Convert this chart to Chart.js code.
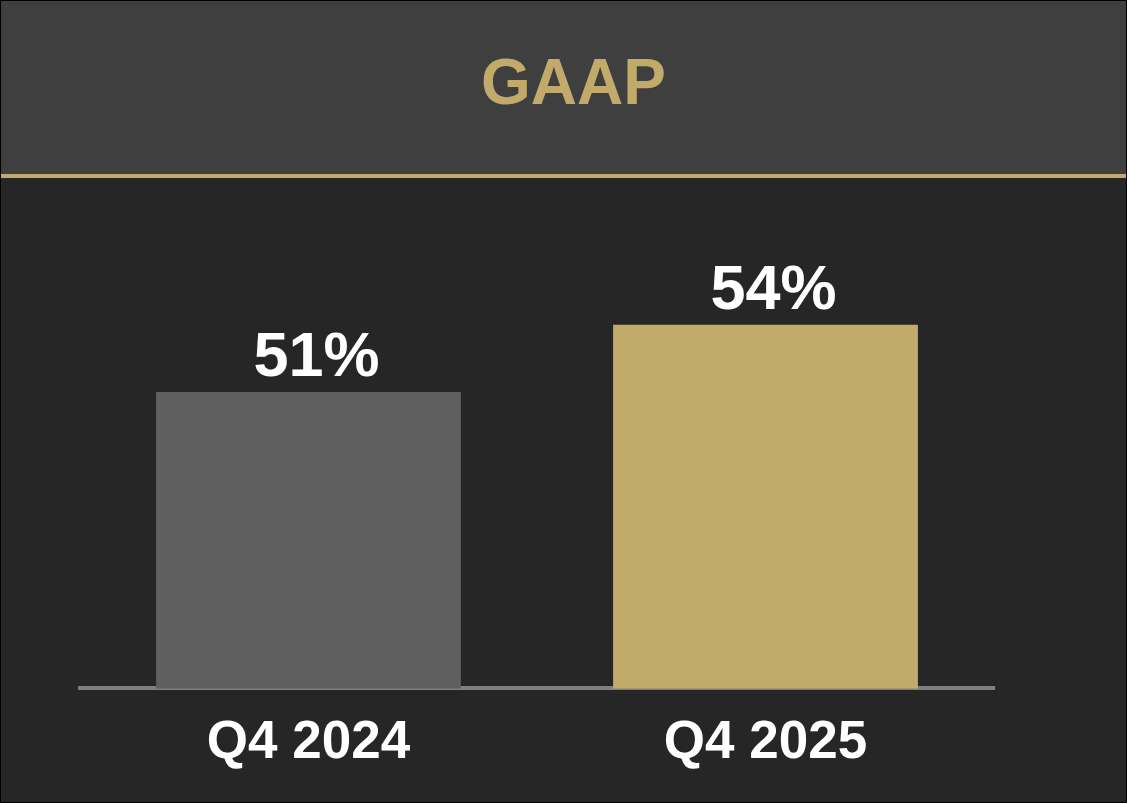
<!DOCTYPE html>
<html>
<head>
<meta charset="utf-8">
<script src="https://cdn.jsdelivr.net/npm/chart.js@4.4.1/dist/chart.umd.min.js"></script>
<style>
  html, body { margin: 0; padding: 0; background: #000; }
  #frame { position: relative; width: 1127px; height: 803px; box-sizing: border-box; border: 1px solid #000; background: #262626; overflow: hidden; }
  #header { position: absolute; left: 0; top: 0; width: 1125px; height: 173px; background: #3f3f3f; border-bottom: 4px solid #c2aa6a; }
  #title { position: absolute; left: 0; top: 0; width: 1125px; height: 173px; line-height: 163px; text-align: center; padding-left: 20px; box-sizing: border-box;
           font-family: "Liberation Sans", Arial, sans-serif; font-weight: bold; font-size: 64px; color: #c2aa6a; }
  #wrap { position: absolute; left: -1px; top: -1px; width: 1127px; height: 803px; }
</style>
</head>
<body>
<div id="frame">
  <div id="header"><div id="title">GAAP</div></div>
  <div id="wrap"><canvas id="c" width="1127" height="803"></canvas></div>
</div>
<script>
const categories = ["Q4 2024", "Q4 2025"];
const marginValues = [51, 54];
const barColors = ["#5f5f5f", "#c2aa6a"];

const valueLabels = {
  id: 'valueLabels',
  afterDatasetsDraw(chart) {
    const ctx = chart.ctx;
    const meta = chart.getDatasetMeta(0);
    ctx.save();
    ctx.fillStyle = '#ffffff';
    ctx.font = 'bold 63px "Liberation Sans", Arial, sans-serif';
    ctx.textAlign = 'center';
    ctx.textBaseline = 'alphabetic';
    meta.data.forEach((bar, i) => {
      const v = chart.data.datasets[0].data[i];
      ctx.fillText(v + '%', bar.x + 8, bar.y - 16);
    });
    ctx.restore();
  }
};

new Chart(document.getElementById('c'), {
  type: 'bar',
  data: {
    labels: categories,
    datasets: [{
      data: marginValues,
      backgroundColor: barColors,
      borderWidth: 0,
      barPercentage: 0.667,
      categoryPercentage: 1.0
    }]
  },
  options: {
    responsive: false,
    animation: false,
    layout: { padding: { left: 80, right: 133, top: 190, bottom: 5 } },
    plugins: { legend: { display: false }, tooltip: { enabled: false }, title: { display: false } },
    scales: {
      x: {
        z: 1,
        grid: { display: false, drawTicks: false },
        border: { display: true, color: '#7f7f7f', width: 4 },
        ticks: {
          color: '#ffffff',
          padding: 23,
          font: { family: '"Liberation Sans", Arial, sans-serif', size: 53, weight: 'bold' }
        }
      },
      y: {
        display: false,
        min: 37.8,
        max: 60
      }
    }
  },
  plugins: [valueLabels]
});
</script>
</body>
</html>
